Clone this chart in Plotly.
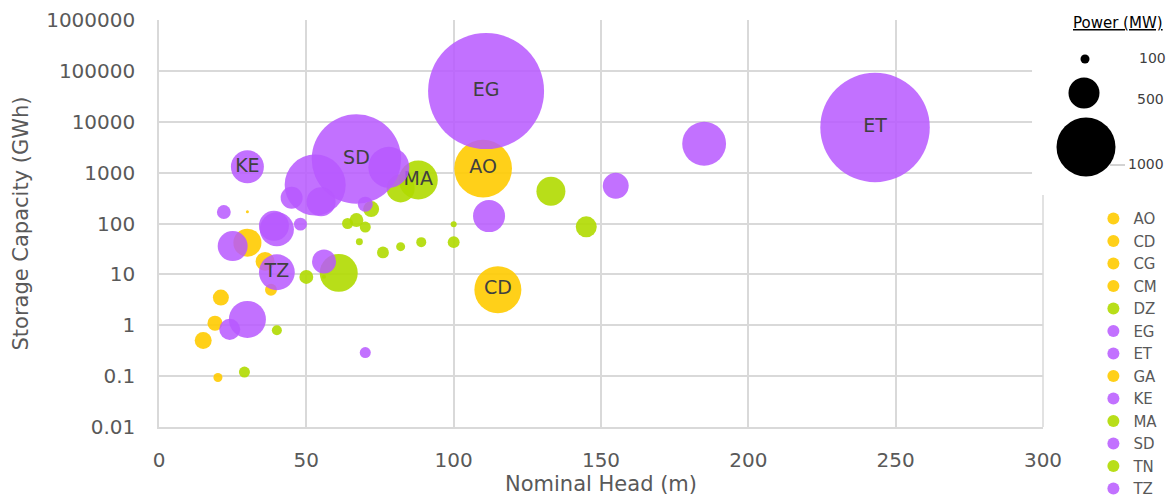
import plotly.graph_objects as go

# ---------------- data ----------------
countries = ["AO", "CD", "CG", "CM", "DZ", "EG", "ET", "GA", "KE", "MA", "SD", "TN", "TZ"]
country_group = {
    "AO": "yellow", "CD": "yellow", "CG": "yellow", "CM": "yellow", "GA": "yellow",
    "DZ": "green", "MA": "green", "TN": "green",
    "EG": "purple", "ET": "purple", "KE": "purple", "SD": "purple", "TZ": "purple",
}

# nominal head (m), storage capacity (GWh), installed power (MW); first point of each country is labelled
AO_head = [110];            AO_storage = [1200];            AO_power = [520]
CD_head = [115];            CD_storage = [5];               CD_power = [345]
CG_head = [30, 21];         CG_storage = [42, 3.5];         CG_power = [123, 40]
CM_head = [36, 38, 30];     CM_storage = [18, 5, 170];      CM_power = [56, 22, 1.4]
GA_head = [19, 15, 20];     GA_storage = [1.1, 0.5, 0.094]; GA_power = [35, 45, 12.6]
DZ_head = [72, 67, 64, 70, 68, 76];
DZ_storage = [192, 117, 100, 85, 44, 27];
DZ_power = [40, 30, 19, 19, 7.6, 22]
MA_head = [88, 82, 133, 145, 100, 100, 89, 82, 61];
MA_storage = [714, 490, 430, 86, 97, 43, 43, 35, 10.7];
MA_power = [237, 123, 131, 69, 5.6, 22, 15.6, 12.6, 225]
TN_head = [50, 56, 40, 29];
TN_storage = [8.9, 9, 0.8, 0.12];
TN_power = [30, 2.5, 15.6, 19]
EG_head = [111];            EG_storage = [40000];           EG_power = [2100]
ET_head = [243, 185, 155];  ET_storage = [7700, 3700, 550]; ET_power = [1870, 300, 105]
KE_head = [30, 22, 25];     KE_storage = [1300, 168, 36];   KE_power = [170, 30, 140]
SD_head = [67, 78, 53, 45, 55, 70, 112, 56, 70];
SD_storage = [1850, 1270, 570, 320, 267, 240, 140, 18, 0.29];
SD_power = [1250, 262, 581, 75, 131, 35, 160, 90, 19]
TZ_head = [40, 40, 39, 48, 30, 24];
TZ_storage = [11, 77, 90, 97, 1.3, 0.83];
TZ_power = [200, 182, 140, 26, 214, 69]
labelled = ["AO", "CD", "EG", "ET", "KE", "MA", "SD", "TZ"]

series = {
    "AO": (AO_head, AO_storage, AO_power), "CD": (CD_head, CD_storage, CD_power),
    "CG": (CG_head, CG_storage, CG_power), "CM": (CM_head, CM_storage, CM_power),
    "DZ": (DZ_head, DZ_storage, DZ_power), "EG": (EG_head, EG_storage, EG_power),
    "ET": (ET_head, ET_storage, ET_power), "GA": (GA_head, GA_storage, GA_power),
    "KE": (KE_head, KE_storage, KE_power), "MA": (MA_head, MA_storage, MA_power),
    "SD": (SD_head, SD_storage, SD_power), "TN": (TN_head, TN_storage, TN_power),
    "TZ": (TZ_head, TZ_storage, TZ_power),
}

y_tickvals = [0.01, 0.1, 1, 10, 100, 1000, 10000, 100000, 1000000]
y_ticktext = ["0.01", "0.1", "1", "10", "100", "1000", "10000", "100000", "1000000"]
x_tickvals = [0, 50, 100, 150, 200, 250, 300]

legend_power = [100, 500, 1000]

# ---------------- style ----------------
FONT = "DejaVu Sans"
GRAY = "#595959"
colors = {"yellow": "rgba(255,203,0,0.9)", "green": "rgba(176,218,0,0.9)",
          "purple": "rgba(183,88,255,0.85)"}
max_power = max(max(v[2]) for v in series.values())
max_diam = 116
sizeref = 2.0 * max_power / max_diam ** 2

fig = go.Figure()
for c in countries:
    hx, sy, pw = series[c]
    txt = [c if (i == 0 and c in labelled) else "" for i in range(len(hx))]
    fig.add_trace(go.Scatter(
        x=hx, y=sy, name=c, mode="markers+text", text=txt,
        textposition="middle center",
        textfont=dict(family=FONT, size=19, color="#404040"),
        marker=dict(size=pw, sizemode="area", sizeref=sizeref, opacity=1,
                    color=colors[country_group[c]], line=dict(width=0)),
        cliponaxis=False,
    ))

fig.update_layout(
    width=1172, height=499,
    margin=dict(l=159, r=129, t=20, b=72, autoexpand=False),
    paper_bgcolor="white", plot_bgcolor="white",
    font=dict(family=FONT, color=GRAY),
    showlegend=True,
    legend=dict(x=1.057, y=0.552, xanchor="left", yanchor="top",
                font=dict(family=FONT, size=15, color=GRAY),
                itemsizing="constant", tracegroupgap=0,
                bgcolor="rgba(0,0,0,0)"),
    xaxis=dict(range=[0, 300], tickvals=x_tickvals, showgrid=True,
               gridcolor="#d9d9d9", gridwidth=1.5, showline=True,
               linecolor="#d9d9d9", linewidth=1.5, zeroline=False,
               tickfont=dict(family=FONT, size=20, color=GRAY),
               ticklabelstandoff=14,
               title=dict(text="Nominal Head (m)", standoff=4,
                          font=dict(family=FONT, size=21, color=GRAY))),
    yaxis=dict(type="log", range=[-2, 6], tickvals=y_tickvals, ticktext=y_ticktext,
               showgrid=True, gridcolor="#d9d9d9", gridwidth=1.5, showline=True,
               linecolor="#d9d9d9", linewidth=1.5, zeroline=False,
               tickfont=dict(family=FONT, size=20, color=GRAY),
               ticklabelstandoff=18,
               title=dict(text="Storage Capacity (GWh)", standoff=12,
                          font=dict(family=FONT, size=21, color=GRAY))),
)

# right border of plot area (hidden above by the size-legend box)
fig.add_shape(type="line", xref="paper", yref="paper", x0=1, x1=1, y0=0, y1=0.57,
              line=dict(color="#d9d9d9", width=1.5), layer="above")
# white box of size legend
fig.add_shape(type="rect", xref="paper", yref="paper", x0=0.9876, x1=1.2, y0=0.58, y1=1.06,
              fillcolor="white", line=dict(width=0), layer="above")

# bubble-size legend
legend_diam = [9, 31, 59]
legend_cy = [59, 93, 147]
legend_cx = [1085, 1084, 1086]
label_y = [58, 99, 164]
label_x = [1137, 1135, 1126]
L = 159; PW = 884; T = 20; PH = 407

def px(x):
    return (x - L) / PW

def py(y):
    return (T + PH - y) / PH

for d, cx, cy in zip(legend_diam, legend_cx, legend_cy):
    fig.add_shape(type="circle", xref="paper", yref="paper",
                  xsizemode="pixel", ysizemode="pixel",
                  xanchor=px(cx), yanchor=py(cy),
                  x0=-d / 2, x1=d / 2, y0=-d / 2, y1=d / 2,
                  fillcolor="black", line=dict(width=0), layer="above")
fig.add_shape(type="line", xref="paper", yref="paper", x0=px(1110), x1=px(1125),
              y0=py(165), y1=py(165), line=dict(color="#a6a6a6", width=1), layer="above")
for v, lx, ly in zip(legend_power, label_x, label_y):
    fig.add_annotation(x=px(lx), y=py(ly), xref="paper", yref="paper", text=str(v),
                       showarrow=False, xanchor="left", yanchor="middle",
                       font=dict(family=FONT, size=14, color="#404040"))
fig.add_annotation(x=px(1118), y=py(23), xref="paper", yref="paper",
                   text="<u>Power (MW)</u>", showarrow=False,
                   xanchor="center", yanchor="middle",
                   font=dict(family=FONT, size=15, color="black"))

fig.write_html("out.html")
